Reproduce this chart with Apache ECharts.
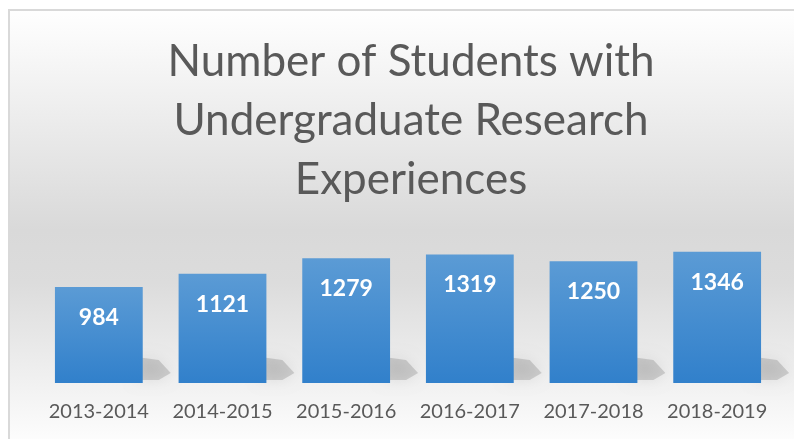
<!DOCTYPE html>
<html>
<head>
<meta charset="utf-8">
<script src="https://cdn.jsdelivr.net/npm/echarts@6/dist/echarts.min.js"></script>
<style>
  html, body { margin: 0; padding: 0; background: #fff; }
  #main { width: 794px; height: 439px; }
</style>
</head>
<body>
<div id="main"></div>
<script>
// data
var years = ['2013-2014', '2014-2015', '2015-2016', '2016-2017', '2017-2018', '2018-2019'];
var students = [984, 1121, 1279, 1319, 1250, 1346];
var titleLines = ['Number of Students with', 'Undergraduate Research', 'Experiences'];

var chart = echarts.init(document.getElementById('main'));

// soft shadow behind the foot of each bar
function renderShadow(params, api) {
  var base = api.coord([api.value(0), 0]);
  var band = api.size([1, 0])[0];
  var right = base[0] + band * 0.355;
  return {
    type: 'polygon',
    shape: {
      points: [
        [right - 6, base[1] - 3],
        [right - 6, base[1] - 26],
        [right + 16, base[1] - 23],
        [right + 28, base[1] - 10],
        [right + 16, base[1] - 3]
      ]
    },
    style: {
      fill: 'rgba(0,0,0,0.14)',
      shadowBlur: 14,
      shadowColor: 'rgba(0,0,0,0.5)'
    }
  };
}

var option = {
  backgroundColor: '#ffffff',
  animation: false,
  graphic: [{
    type: 'rect',
    left: 8,
    top: 9,
    shape: { width: 800, height: 440 },
    z: -10,
    style: {
      stroke: '#d9d9d9',
      lineWidth: 2,
      fill: {
        type: 'linear', x: 0, y: 0, x2: 0, y2: 1,
        colorStops: [
          { offset: 0, color: '#ffffff' },
          { offset: 0.5, color: '#d9d9d9' },
          { offset: 0.62, color: '#dcdcdc' },
          { offset: 1, color: '#ffffff' }
        ]
      }
    }
  }],
  title: {
    text: titleLines.join('\n'),
    left: 406,
    top: 27,
    textAlign: 'center',
    textStyle: {
      fontFamily: 'Lato',
      fontWeight: 'normal',
      fontSize: 44,
      lineHeight: 59,
      color: '#595959'
    }
  },
  grid: {
    left: 37,
    right: 15,
    top: 227,
    bottom: 56,
    containLabel: false
  },
  xAxis: {
    type: 'category',
    data: years,
    axisLine: { show: false },
    axisTick: { show: false },
    axisLabel: {
      interval: 0,
      fontFamily: 'Lato',
      fontSize: 20,
      color: '#595959',
      margin: 19
    }
  },
  yAxis: {
    type: 'value',
    min: 0,
    max: 1600,
    show: false
  },
  series: [{
    type: 'custom',
    renderItem: renderShadow,
    data: students.map(function (v, i) { return [i, v]; }),
    z: 1,
    silent: true
  }, {
    type: 'bar',
    data: students,
    barWidth: '71%',
    z: 2,
    itemStyle: {
      color: {
        type: 'linear', x: 0, y: 0, x2: 0, y2: 1,
        colorStops: [
          { offset: 0, color: '#5b9bd5' },
          { offset: 1, color: '#3180cb' }
        ]
      }
    },
    label: {
      show: true,
      position: 'insideTop',
      distance: 19,
      fontFamily: 'Lato',
      fontWeight: 'bold',
      fontSize: 23,
      color: '#ffffff'
    }
  }]
};

chart.setOption(option);
</script>
</body>
</html>
